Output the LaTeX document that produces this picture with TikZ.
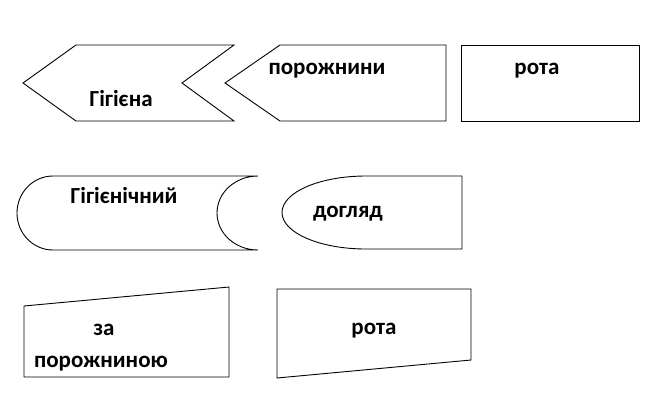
\documentclass[tikz,border=0pt]{standalone}
\usepackage{fontspec}
\newfontfamily\carlito{Carlito}
\begin{document}
\begin{tikzpicture}[x=1pt,y=-1pt,line width=0.9pt,font={\carlito\bfseries\fontsize{23}{28}\selectfont}]
\useasboundingbox (0,0) rectangle (669,400);
\draw (76,45)--(234,45)--(182,83)--(234,121)--(76,121)--(23,83)--cycle;
\draw (280,45)--(446,45)--(446,121)--(280,121)--(225,83)--cycle;
\draw (461,45) rectangle (639,121);
\node[anchor=base] (gigiena) at (121,106) {Гігієна};
\node[anchor=base] (porozhnyny) at (327,74) {порожнини};
\node[anchor=base] (rotaA) at (537,74) {рота};
\draw (53,176)--(258,176) arc[start angle=270,end angle=90,x radius=41,y radius=37]
  --(53,250) arc[start angle=90,end angle=270,x radius=36,y radius=37]--cycle;
\draw (366,176)--(462,176)--(462,249)--(366,249) arc[start angle=90,end angle=270,x radius=84,y radius=36.5]--cycle;
\node[anchor=base] (gigienichnyi) at (124,203) {Гігієнічний};
\node[anchor=base] (dohliad) at (348,217) {догляд};
\draw (24,306)--(229,287)--(229,377)--(24,377)--cycle;
\draw (277,289)--(471,289)--(471,360)--(277,378)--cycle;
\node[anchor=base] (za) at (104,335) {за};
\node[anchor=base] (porozhnynoiu) at (101,367) {порожниною};
\node[anchor=base] (rotaB) at (374,334) {рота};
\end{tikzpicture}
\end{document}
